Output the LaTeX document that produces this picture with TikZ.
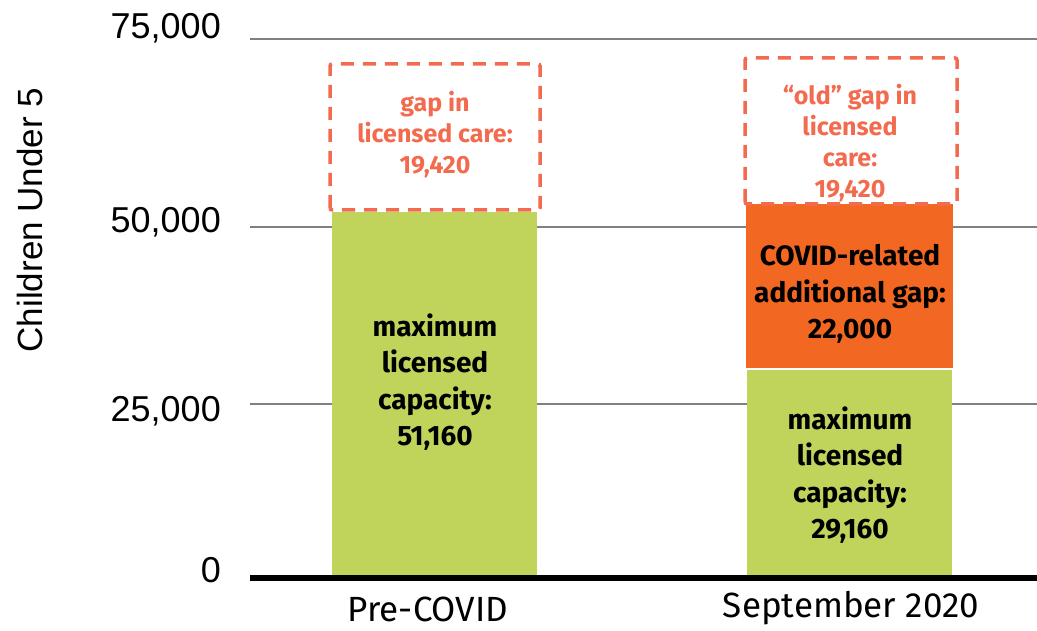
\documentclass[tikz,border=0pt]{standalone}
\usepackage{fontspec}
\setmainfont{Fira Sans}
\newfontfamily\axisfont{Liberation Sans}
\usetikzlibrary{positioning}
\definecolor{capgreen}{RGB}{192,211,91}
\definecolor{covidorange}{RGB}{242,103,34}
\definecolor{gapred}{RGB}{243,107,79}
\begin{document}
\begin{tikzpicture}[
    x=1pt, y=1pt,
    grid/.style={draw=black!50, line width=2pt},
    baseline/.style={draw=black, line width=6pt},
    capbar/.style={fill=capgreen, draw=none},
    covidbar/.style={fill=covidorange, draw=none},
    gapbox/.style={draw=gapred, line width=3.5pt, dash pattern=on 13pt off 9pt, rounded corners=2pt},
    tick/.style={font=\axisfont\fontsize{36}{40}\selectfont, anchor=east, inner sep=0pt},
    barlabel/.style={font=\bfseries\fontsize{28}{36.5}\selectfont, align=center, inner sep=0pt},
    gaplabel/.style={font=\bfseries\fontsize{25}{31}\selectfont, align=center, inner sep=0pt, text=gapred},
    catlabel/.style={font=\fontsize{35}{40}\selectfont, inner sep=0pt}
]
\useasboundingbox (0,0) rectangle (1037,630);
% --- Gridlines ---
\draw[grid] (250,226) -- (1037,226);
\draw[grid] (250,403) -- (1037,403);
\draw[grid] (250,591) -- (1037,591);
% --- Pre-COVID ---
\fill[capbar] (332,52) rectangle (537,418);
\draw[gapbox] (330,420) rectangle (540,566);
\node[barlabel] (precap) at (435,248) {maximum\\licensed\\capacity:\\51,160};
\node[gaplabel] (pregap) at (435,495) {gap in\\licensed care:\\19,420};
% --- September 2020 ---
\fill[capbar] (747,52) rectangle (952,260);
\fill[covidbar] (746,262) rectangle (953,426);
\draw[gapbox] (745,426) rectangle (957,572);
\node[barlabel] (sepcap) at (850,155) {maximum\\licensed\\capacity:\\29,160};
\node[barlabel] (sepcovid) at (850,336) {COVID-related\\additional\ gap:\\22,000};
\node[gaplabel] (sepgap) at (850,487) {“old” gap in\\licensed\\care:\\19,420};
% --- Axis ---
\draw[baseline] (250,52) -- (1037,52);
\node[tick] (t0) at (221,60) {0};
\node[tick] (t25) at (221,219) {25,000};
\node[tick] (t50) at (221,408) {50,000};
\node[tick] (t75) at (221,602) {75,000};
\node[font=\axisfont\fontsize{35}{40}\selectfont, rotate=90, inner sep=0pt] (ylab) at (30,410) {Children Under 5};
\node[catlabel] (precat) at (428,21) {Pre-COVID};
\node[catlabel] (sepcat) at (851,22) {September 2020};
\end{tikzpicture}
\end{document}
